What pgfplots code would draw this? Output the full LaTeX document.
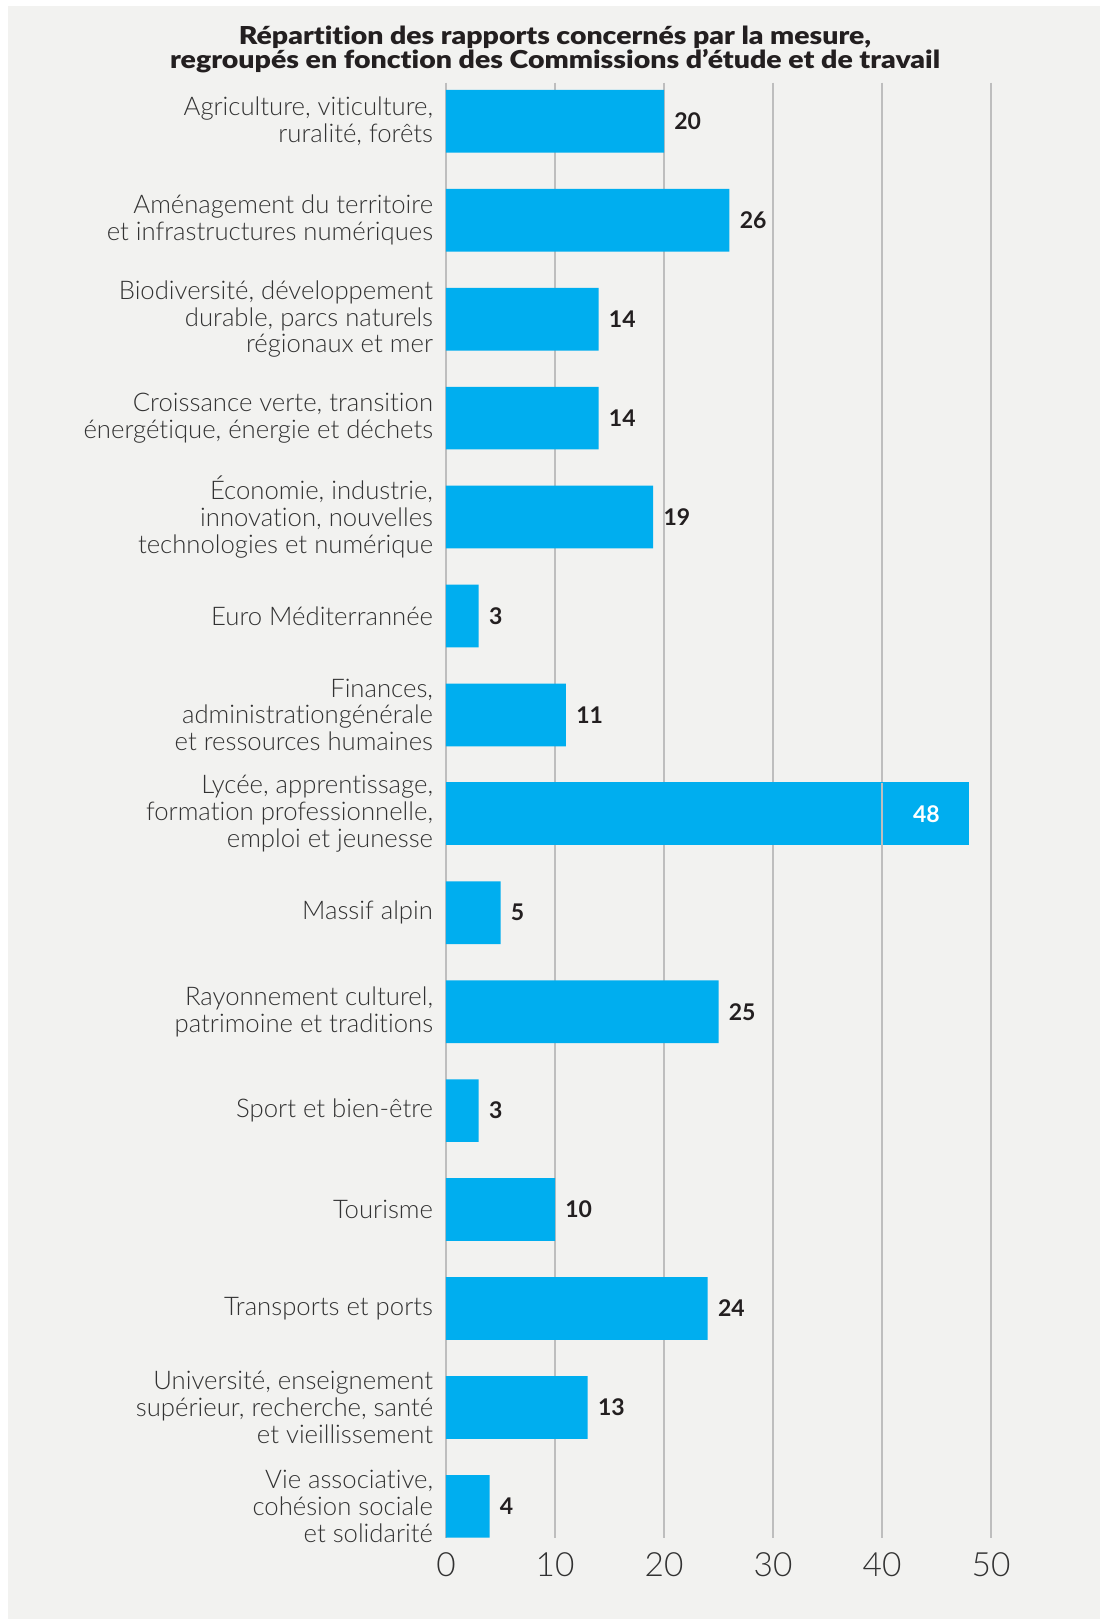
\documentclass[border=0pt]{standalone}
\usepackage{fontspec}
\setmainfont{Lato}
\newfontfamily\lightfont{Lato Light}[Ligatures=NoCommon]
\newfontfamily\boldfont{Lato Bold}
\newfontfamily\blackfont{Lato Black}[Ligatures=NoCommon]
\usepackage{graphicx}
\usepackage{pgfplots}
\pgfplotsset{compat=1.18}
\definecolor{bgpanel}{RGB}{242,242,240}
\definecolor{barblue}{RGB}{0,174,239}
\definecolor{gridgray}{RGB}{190,190,190}
\definecolor{labelgray}{RGB}{50,50,50}
\definecolor{titlegray}{RGB}{35,31,32}
\begin{document}
\begin{tikzpicture}
\useasboundingbox (0,0) rectangle (550pt,-809.5pt);
\fill[white] (0,0) rectangle (550pt,-809.5pt);
\fill[bgpanel] (4pt,-3pt) rectangle (550pt,-809.5pt);
\node[anchor=base, text=titlegray, inner sep=0pt] at (277.5pt,-22.15pt)
  {\resizebox{316pt}{\height}{\blackfont\fontsize{12.35}{14}\selectfont Répartition des rapports concernés par la mesure,}};
\node[anchor=base, text=titlegray, inner sep=0pt] at (277.5pt,-34.15pt)
  {\resizebox{385pt}{\height}{\blackfont\fontsize{12.35}{14}\selectfont regroupés en fonction des Commissions d’étude et de travail}};
\begin{axis}[
  at={(223pt,-768.85pt)}, anchor=south west,
  scale only axis,
  width=272.5pt, height=727.5pt,
  xmin=0, xmax=50,
  ymin=-0.39, ymax=14.317,
  y dir=reverse,
  xbar,
  bar width=31.35pt,
  axis line style={draw=none},
  major tick length=0pt,
  xmajorgrids,
  grid style={draw=gridgray, line width=0.75pt},
  xtick={0,10,20,30,40,50},
  ytick={0,1,2,3,4,5,6,7,8,9,10,11,12,13,14},
  yticklabels={
    {Agriculture, viticulture,\\ruralité, forêts},
    {Aménagement du territoire\\et infrastructures numériques},
    {Biodiversité, développement\\durable, parcs naturels\\régionaux et mer},
    {Croissance verte, transition\\énergétique, énergie et déchets},
    {Économie, industrie,\\innovation, nouvelles\\technologies et numérique},
    {Euro Méditerrannée},
    {Finances,\\administrationgénérale\\et ressources humaines},
    {Lycée, apprentissage,\\formation professionnelle,\\emploi et jeunesse},
    {Massif alpin},
    {Rayonnement culturel,\\patrimoine et traditions},
    {Sport et bien-être},
    {Tourisme},
    {Transports et ports},
    {Université, enseignement\\supérieur, recherche, santé\\et vieillissement},
    {Vie associative,\\cohésion sociale\\et solidarité}
  },
  yticklabel style={font=\lightfont\fontsize{12.85}{13.35}\selectfont, align=right, inner sep=0pt, xshift=-6.3pt, text=labelgray},
  /pgf/number format/assume math mode=true,
  xticklabel style={font=\lightfont\fontsize{16.7}{18}\selectfont, anchor=north, inner sep=0pt, yshift=-7pt, text=labelgray},
  clip=false,
]
\addplot[draw=none, fill=barblue, bar shift=0pt,
  nodes near coords,
  every node near coord/.append style={anchor=west, inner sep=0pt, xshift=5pt, font=\boldfont\fontsize{11.5}{12}\selectfont, text=titlegray},
  /pgf/number format/assume math mode=true]
  coordinates {(20,0) (26,1) (14,2) (14,3) (19,4) (3,5) (11,6) (5,8) (25,9) (3,10) (10,11) (24,12) (13,13) (4,14)};
\addplot[draw=none, fill=barblue, bar shift=0pt,
  nodes near coords,
  every node near coord/.append style={anchor=east, inner sep=0pt, xshift=-14.5pt, font=\boldfont\fontsize{11.5}{12}\selectfont, text=white},
  /pgf/number format/assume math mode=true]
  coordinates {(48,7)};
\draw[gridgray, line width=0.75pt] (axis cs:40,6.6835) -- (axis cs:40,7.3165);
\end{axis}
\end{tikzpicture}
\end{document}
